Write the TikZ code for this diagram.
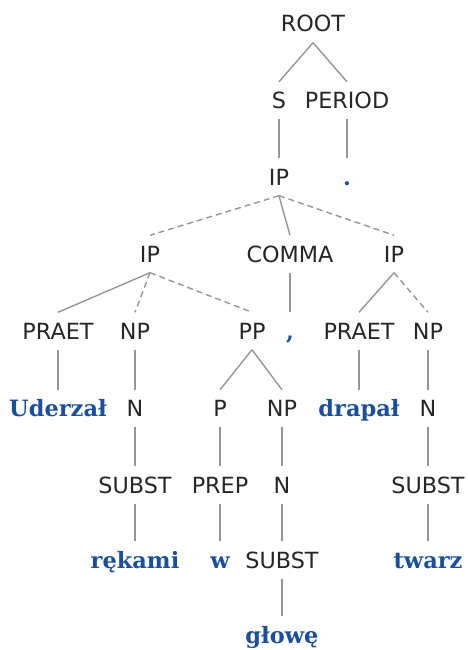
\documentclass[tikz,border=0pt]{standalone}
\usepackage{fontspec}
\newfontfamily\labfont{DejaVu Sans}
\newfontfamily\wordfont{DejaVu Serif}
\definecolor{wordblue}{HTML}{1A4FA0}
\definecolor{edgegray}{HTML}{959595}
\begin{document}
\begin{tikzpicture}[x=1pt,y=-1pt,
  lab/.style={inner xsep=0pt,inner ysep=6.5pt,text height=20pt,text depth=4pt,
    font=\labfont\fontsize{22.3}{26}\selectfont,text=black!85},
  word/.style={lab,font=\wordfont\bfseries\fontsize{22.5}{26}\selectfont,text=wordblue},
  edge/.style={draw=edgegray,line width=1.4pt},
  dashedge/.style={edge,dash pattern=on 6pt off 4pt}]
\useasboundingbox (0,0) rectangle (467,650);
% row 0
\node[lab] (root) at (313,24) {ROOT};
% row 1
\node[lab] (s) at (279,100.5) {S};
\node[lab] (period) at (347,100.5) {PERIOD};
% row 2
\node[lab] (ip) at (279,177) {IP};
\node[word] (dot) at (347,177) {.};
% row 3
\node[lab] (ipa) at (150,254) {IP};
\node[lab] (comma) at (290,254) {COMMA};
\node[lab] (ipb) at (394,254) {IP};
% row 4
\node[lab] (praeta) at (58,331) {PRAET};
\node[lab] (npa) at (135,331) {NP};
\node[lab] (pp) at (252,331) {PP};
\node[word] (cm) at (290,331) {,};
\node[lab] (praetb) at (359,331) {PRAET};
\node[lab] (npb) at (428,331) {NP};
% row 5
\node[word] (uderzal) at (58,408.5) {Uderzał};
\node[lab] (na) at (135,408.5) {N};
\node[lab] (p) at (220,408.5) {P};
\node[lab] (npc) at (282,408.5) {NP};
\node[word] (drapal) at (359,408.5) {drapał};
\node[lab] (nb) at (428,408.5) {N};
% row 6
\node[lab] (substa) at (135,485) {SUBST};
\node[lab] (prep) at (220,485) {PREP};
\node[lab] (nc) at (282,485) {N};
\node[lab] (substb) at (428,485) {SUBST};
% row 7
\node[word] (rekami) at (135,560) {rękami};
\node[word] (w) at (220,560) {w};
\node[lab] (substc) at (282,560) {SUBST};
\node[word] (twarz) at (428,560) {twarz};
% row 8
\node[word] (glowe) at (282,635) {głowę};
% edges
\draw[edge] (root.south) -- (s.north);
\draw[edge] (root.south) -- (period.north);
\draw[edge] (s.south) -- (ip.north);
\draw[edge] (period.south) -- (dot.north);
\draw[dashedge] (ip.south) -- (ipa.north);
\draw[edge] (ip.south) -- (comma.north);
\draw[dashedge] (ip.south) -- (ipb.north);
\draw[edge] (ipa.south) -- (praeta.north);
\draw[dashedge] (ipa.south) -- (npa.north);
\draw[dashedge] (ipa.south) -- (pp.north);
\draw[edge] (comma.south) -- (cm.north);
\draw[edge] (ipb.south) -- (praetb.north);
\draw[dashedge] (ipb.south) -- (npb.north);
\draw[edge] (praeta.south) -- (uderzal.north);
\draw[edge] (npa.south) -- (na.north);
\draw[edge] (pp.south) -- (p.north);
\draw[edge] (pp.south) -- (npc.north);
\draw[edge] (praetb.south) -- (drapal.north);
\draw[edge] (npb.south) -- (nb.north);
\draw[edge] (na.south) -- (substa.north);
\draw[edge] (p.south) -- (prep.north);
\draw[edge] (npc.south) -- (nc.north);
\draw[edge] (nb.south) -- (substb.north);
\draw[edge] (substa.south) -- (rekami.north);
\draw[edge] (prep.south) -- (w.north);
\draw[edge] (nc.south) -- (substc.north);
\draw[edge] (substb.south) -- (twarz.north);
\draw[edge] (substc.south) -- (glowe.north);
\end{tikzpicture}
\end{document}
